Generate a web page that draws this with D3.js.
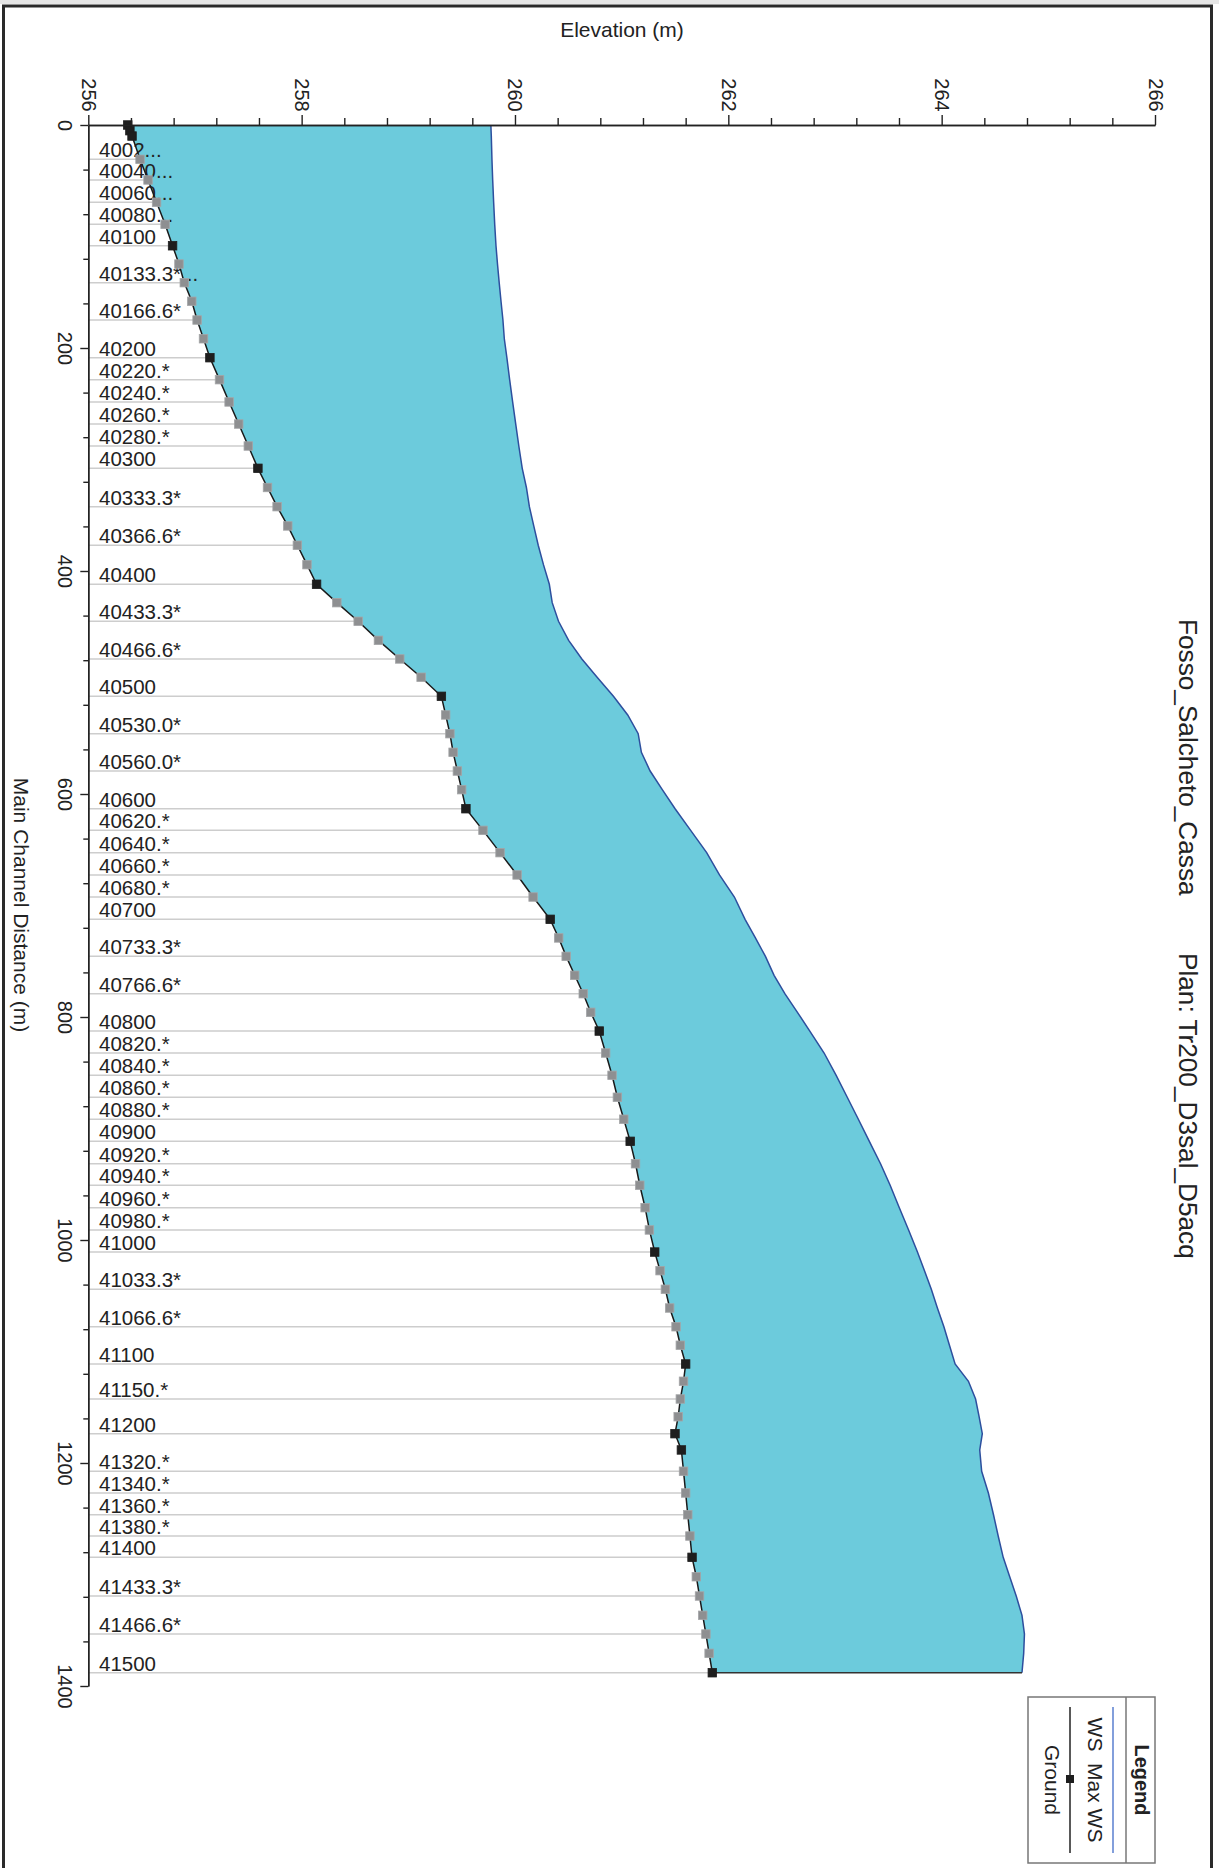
<!DOCTYPE html>
<html><head><meta charset="utf-8">
<script src="https://cdn.jsdelivr.net/npm/d3@7"></script>
<style>
body{margin:0;background:#fff}
svg{display:block}
text{font-family:"Liberation Sans",Arial,Helvetica,sans-serif;fill:#222}
</style>
</head><body>
<svg id="c" width="1219" height="1868"></svg>
<script>
// ---- data ----
const stationLabels = ["","","","4002...","40040...","40060...","40080...","40100","","40133.3*...",
"","40166.6*","","40200","40220.*","40240.*","40260.*","40280.*","40300","",
"40333.3*","","40366.6*","","40400","","40433.3*","","40466.6*","",
"40500","","40530.0*","","40560.0*","","40600","40620.*","40640.*","40660.*",
"40680.*","40700","","40733.3*","","40766.6*","","40800","40820.*","40840.*",
"40860.*","40880.*","40900","40920.*","40940.*","40960.*","40980.*","41000","","41033.3*",
"","41066.6*","","41100","","41150.*","","41200","","41320.*",
"41340.*","41360.*","41380.*","41400","","41433.3*","","41466.6*","","41500"];
const realSection = [1,1,1,0,0,0,0,1,0,0, 0,0,0,1,0,0,0,0,1,0, 0,0,0,0,1,0,0,0,0,0,
1,0,0,0,0,0,1,0,0,0, 0,1,0,0,0,0,0,1,0,0, 0,0,1,0,0,0,0,1,0,0, 0,0,0,1,0,0,0,1,1,0,
0,0,0,1,0,0,0,0,0,1];
const distances = [0,5.1,9.9,30.8,49.3,69.3,89.1,108.3,124.7,141.4,
158.1,174.9,191.7,208.7,228.4,248.4,268.2,287.9,307.9,325.1,
342.3,359.6,376.9,394.3,411.9,428.4,445.1,462.2,478.9,495.3,
512.4,529.1,545.9,562.6,579.4,596.1,613.2,632.6,652.6,672.6,
692.4,712.4,729.1,745.6,762.6,779.1,795.8,812.6,832.3,852.3,
872.0,891.7,911.5,931.6,950.9,971.0,991.0,1010.8,1027.5,1044.2,
1061.0,1077.8,1094.4,1111.2,1126.7,1142.6,1158.5,1173.7,1188.3,1207.4,
1226.9,1246.4,1265.5,1284.6,1302.0,1319.3,1336.6,1353.4,1370.7,1388.1];
const groundElev = [256.37,256.39,256.41,256.485,256.56,256.64,256.72,256.79,256.85,256.90,
256.97,257.02,257.08,257.14,257.23,257.32,257.41,257.50,257.59,257.68,
257.77,257.87,257.96,258.05,258.14,258.33,258.53,258.72,258.92,259.12,
259.31,259.35,259.39,259.42,259.46,259.50,259.54,259.70,259.86,260.02,
260.17,260.33,260.41,260.48,260.56,260.64,260.71,260.79,260.85,260.91,
260.96,261.02,261.08,261.13,261.17,261.22,261.26,261.31,261.36,261.41,
261.45,261.51,261.55,261.60,261.58,261.55,261.53,261.50,261.56,261.58,
261.60,261.62,261.64,261.66,261.70,261.73,261.76,261.79,261.82,261.85];
const wsElev = [259.774,259.776,259.778,259.784,259.791,259.80,259.81,259.822,259.836,259.852,
259.869,259.887,259.90,259.924,259.950,259.978,260.007,260.036,260.068,260.107,
260.135,260.176,260.218,260.267,260.322,260.349,260.408,260.503,260.627,260.770,
260.923,261.057,261.155,261.185,261.267,261.381,261.501,261.647,261.797,261.917,
262.057,262.157,262.254,262.348,262.429,262.530,262.648,262.764,262.898,263.011,
263.115,263.219,263.322,263.427,263.517,263.603,263.690,263.773,263.839,263.903,
263.960,264.021,264.073,264.126,264.251,264.318,264.351,264.381,264.357,264.375,
264.438,264.486,264.530,264.577,264.638,264.699,264.753,264.776,264.769,264.753];
const elevMajorTicks = [256,258,260,262,264,266];
const distMajorTicks = [0,200,400,600,800,1000,1200,1400];
const titleRiver = "Fosso_Salcheto_Cassa";
const titlePlan = "Plan: Tr200_D3sal_D5acq";
const legendItems = ["WS  Max WS","Ground"];

// ---- build ----
const rows = distances.map((d,i)=>({d, g:groundElev[i], ws:wsElev[i], lab:stationLabels[i], real:realSection[i]}));
const svg = d3.select('#c');
const x = d3.scaleLinear().domain([256,266]).range([88.3,1155]);
const y = d3.scaleLinear().domain([0,1400]).range([125,1686]);

// page frame
svg.append('rect').attr('x',0).attr('y',0).attr('width',1219).attr('height',4).attr('fill','#e6e6e6');
svg.append('rect').attr('x',3.5).attr('y',6).attr('width',1208).attr('height',1890)
  .attr('fill','none').attr('stroke','#2a2a2a').attr('stroke-width',3);

// water area
svg.append('path').datum(rows)
  .attr('d', d3.area().y(r=>y(r.d)).x0(r=>x(r.g)).x1(r=>x(r.ws)))
  .attr('fill','#6ccbdc');

// gridlines for labelled stations
const labelled = rows.filter(r=>r.lab!=="");
svg.append('g').selectAll('line').data(labelled).join('line')
  .attr('x1',x(256)).attr('x2',r=>x(r.g)).attr('y1',r=>y(r.d)).attr('y2',r=>y(r.d))
  .attr('stroke','#cdcdcd').attr('stroke-width',1.5);

// station labels
svg.append('g').selectAll('text').data(labelled).join('text')
  .attr('x',99).attr('y',r=>y(r.d)-2).attr('font-size',20.5).text(r=>r.lab);

// WS line
svg.append('path').datum(rows)
  .attr('d', d3.line().y(r=>y(r.d)).x(r=>x(r.ws)))
  .attr('fill','none').attr('stroke','#2d4f9e').attr('stroke-width',1.5);
// bottom closing line
const last = rows[rows.length-1];
svg.append('line').attr('x1',x(last.g)).attr('x2',x(last.ws)).attr('y1',y(last.d)).attr('y2',y(last.d))
  .attr('stroke','#333').attr('stroke-width',1.5);

// ground line
svg.append('path').datum(rows)
  .attr('d', d3.line().y(r=>y(r.d)).x(r=>x(r.g)))
  .attr('fill','none').attr('stroke','#1a1a1a').attr('stroke-width',1.5);

// markers
svg.append('g').selectAll('rect').data(rows).join('rect')
  .attr('x',r=>x(r.g)-4.25).attr('y',r=>y(r.d)-4.25).attr('width',8.5).attr('height',8.5)
  .attr('fill',r=>r.real?'#1e1e1e':'#8e8f91')
  .attr('stroke',r=>r.real?'#1e1e1e':'#a4a5a7').attr('stroke-width',0.8);

// axes
const minorElev = d3.range(256,266.001,0.4).filter(v=>Math.abs(v/2-Math.round(v/2))>1e-6);
const gTop = svg.append('g').attr('transform',`translate(0,${y(0)})`);
gTop.call(d3.axisTop(x).tickValues(minorElev).tickSize(7).tickFormat('').tickSizeOuter(0));
const gTop2 = svg.append('g').attr('transform',`translate(0,${y(0)})`);
gTop2.call(d3.axisTop(x).tickValues(elevMajorTicks).tickSize(10).tickFormat(d3.format('d')).tickSizeOuter(0));
gTop2.selectAll('text').attr('x',0).attr('y',0).attr('dy','0.35em')
  .attr('transform','translate(0,-30) rotate(90)').attr('text-anchor','middle')
  .attr('font-size',20).attr('fill','#222').style('font-family','"Liberation Sans",Arial,sans-serif');

const minorDist = d3.range(0,1400.1,40).filter(v=>v%200!==0);
const gL = svg.append('g').attr('transform',`translate(${x(256)},0)`);
gL.call(d3.axisLeft(y).tickValues(minorDist).tickSize(5).tickFormat('').tickSizeOuter(0));
const gL2 = svg.append('g').attr('transform',`translate(${x(256)},0)`);
gL2.call(d3.axisLeft(y).tickValues(distMajorTicks).tickSize(8).tickFormat(d3.format('d')).tickSizeOuter(0));
gL2.selectAll('text').attr('x',0).attr('y',0).attr('dy','0.35em')
  .attr('transform','translate(-23,0) rotate(90)').attr('text-anchor','middle')
  .attr('font-size',20).attr('fill','#222').style('font-family','"Liberation Sans",Arial,sans-serif');
svg.selectAll('.domain, .tick line').attr('stroke','#222').attr('stroke-width',1.4);

// axis titles
svg.append('text').attr('x',622).attr('y',37).attr('text-anchor','middle').attr('font-size',21).text('Elevation (m)');
svg.append('text').attr('transform','translate(21,905) rotate(90)').attr('text-anchor','middle')
  .attr('dy','0.35em').attr('font-size',21).text('Main Channel Distance (m)');

// chart title (rotated)
svg.append('text').attr('transform','translate(1188,619) rotate(90)').attr('dy','0.35em')
  .attr('font-size',26.2).text(titleRiver);
svg.append('text').attr('transform','translate(1188,953) rotate(90)').attr('dy','0.35em')
  .attr('font-size',26.2).text(titlePlan);

// legend
const lg = svg.append('g');
lg.append('rect').attr('x',1028).attr('y',1697).attr('width',127).attr('height',166)
  .attr('fill','none').attr('stroke','#777').attr('stroke-width',1.5);
lg.append('line').attr('x1',1126).attr('x2',1126).attr('y1',1697).attr('y2',1863)
  .attr('stroke','#777').attr('stroke-width',1.5);
lg.append('text').attr('transform','translate(1142,1780) rotate(90)').attr('text-anchor','middle')
  .attr('dy','0.35em').attr('font-size',20).attr('font-weight','bold').text('Legend');
lg.append('line').attr('x1',1113).attr('x2',1113).attr('y1',1707).attr('y2',1853)
  .attr('stroke','#5a7fcf').attr('stroke-width',1.5);
lg.append('text').attr('transform','translate(1095,1780) rotate(90)').attr('text-anchor','middle')
  .attr('dy','0.35em').attr('font-size',21).style('white-space','pre').text(legendItems[0]);
lg.append('line').attr('x1',1070).attr('x2',1070).attr('y1',1707).attr('y2',1853)
  .attr('stroke','#222').attr('stroke-width',1.5);
lg.append('rect').attr('x',1066).attr('y',1775).attr('width',8).attr('height',8).attr('fill','#1e1e1e');
lg.append('text').attr('transform','translate(1052,1780) rotate(90)').attr('text-anchor','middle')
  .attr('dy','0.35em').attr('font-size',21).text(legendItems[1]);
</script>
</body></html>
